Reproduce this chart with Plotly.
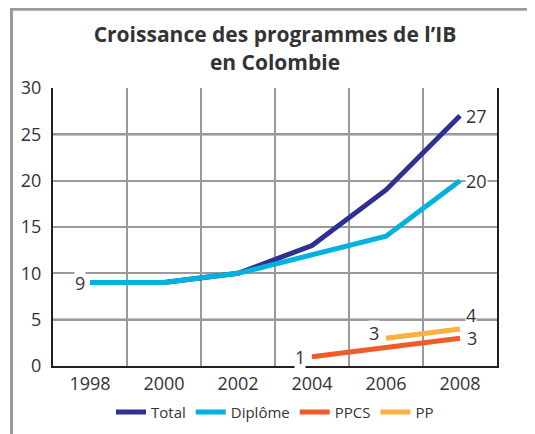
import plotly.graph_objects as go

# données
annees = [1998, 2000, 2002, 2004, 2006, 2008]
total = [9, 9, 10, 13, 19, 27]
diplome = [9, 9, 10, 12, 14, 20]
annees_ppcs = [2004, 2006, 2008]
ppcs = [1, 2, 3]
annees_pp = [2006, 2008]
pp = [3, 4]

FONT = "Open Sans"
TXT = "#333333"
GRIS = "#9a9a9c"
NOIR = "#231f20"
W, H = 535, 434
DEC = 8  # marge par défaut du <body> de la page html

fig = go.Figure()
series = [
    ("Total", annees, total, "#2e3192"),
    ("Diplôme", annees, diplome, "#00b2dd"),
    ("PPCS", annees_ppcs, ppcs, "#f15a29"),
    ("PP", annees_pp, pp, "#fbb040"),
]
for nom, xs, ys, col in series:
    fig.add_trace(go.Scatter(x=xs, y=ys, name=nom, mode="lines",
                             line=dict(color=col, width=5)))

# étiquettes de valeurs (fond blanc qui coupe la grille)
def etiquette(x, y, xanchor, xshift=0, yshift=0):
    fig.add_annotation(x=x, y=y, text=str(y), showarrow=False,
                       xanchor=xanchor, xshift=xshift, yshift=yshift,
                       bgcolor="white", borderpad=0,
                       font=dict(family=FONT, size=18, color=TXT))

etiquette(annees[0], total[0], "right", xshift=-4)
etiquette(annees[-1], total[-1], "left", xshift=5)
etiquette(annees[-1], diplome[-1], "left", xshift=5)
etiquette(annees_ppcs[0], ppcs[0], "right", xshift=-6)
etiquette(annees_ppcs[-1], ppcs[-1], "left", xshift=6)
etiquette(annees_pp[0], pp[0], "right", xshift=-6, yshift=5)
etiquette(annees_pp[-1], pp[-1], "left", xshift=5, yshift=14)

# lignes noires à 5, 15, 25
for v in [5, 15, 25]:
    fig.add_shape(type="line", xref="paper", x0=0, x1=1, yref="y", y0=v, y1=v,
                  line=dict(color=NOIR, width=2), layer="between")

# cadre gris extérieur
fig.add_shape(type="rect", xref="paper", yref="paper",
              x0=-0.0935, x1=1.3, y0=-0.5, y1=1.283,
              line=dict(color=GRIS, width=3), layer="below")

fig.update_layout(
    width=W, height=H,
    margin=dict(l=53 - DEC, r=38 + DEC, t=88 - DEC, b=68 + DEC, autoexpand=False),
    paper_bgcolor="white", plot_bgcolor="white",
    font=dict(family=FONT, color=TXT),
    title=dict(text="<b>Croissance des programmes de l’IB<br>en Colombie</b>",
               x=0.5, xref="paper", xanchor="center",
               y=0.921, yanchor="middle",
               font=dict(family=FONT, size=21, color=TXT)),
    showlegend=True,
    legend=dict(orientation="h", x=0.5, xanchor="center",
                yref="container", y=0.05 + DEC / H, yanchor="middle",
                bgcolor="rgba(0,0,0,0)",
                font=dict(family=FONT, size=15, color=TXT),
                itemwidth=30, tracegroupgap=0),
    xaxis=dict(range=[1997, 2009], tickvals=annees, showgrid=False,
               showline=True, linecolor=NOIR, linewidth=2, ticks="",
               tickfont=dict(size=18, color=TXT), zeroline=False,
               automargin=False,
               minor=dict(tickvals=[1999, 2001, 2003, 2005, 2007],
                          showgrid=True, gridcolor=GRIS, gridwidth=2)),
    yaxis=dict(range=[0, 30], tickvals=[0, 5, 10, 15, 20, 25, 30],
               showgrid=True, gridcolor=GRIS, gridwidth=2,
               showline=True, mirror=True, linecolor=NOIR, linewidth=2,
               ticks="", zeroline=False, ticklabelstandoff=6,
               automargin=False,
               tickfont=dict(size=18, color=TXT)),
)

fig.write_html("out.html")
